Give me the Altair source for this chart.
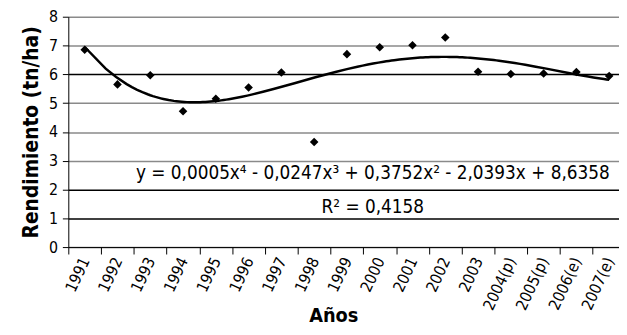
import altair as alt
import pandas as pd

years = ["1991", "1992", "1993", "1994", "1995", "1996", "1997", "1998", "1999",
         "2000", "2001", "2002", "2003", "2004(p)", "2005(p)", "2006(e)", "2007(e)"]
rendimiento = [6.85, 5.65, 5.97, 4.72, 5.15, 5.54, 6.06, 3.65, 6.70,
               6.94, 7.01, 7.28, 6.09, 6.01, 6.03, 6.08, 5.94]
y_ticks = [0, 1, 2, 3, 4, 5, 6, 7, 8]
equation = "y = 0,0005x\u2074 - 0,0247x\u00b3 + 0,3752x\u00b2 - 2,0393x + 8,6358"
r2_text = "R\u00b2 = 0,4158"

df = pd.DataFrame({"x": list(range(1, len(years) + 1)), "y": rendimiento, "year": years})

FONT = "'Liberation Sans Narrow', 'DejaVu Sans Condensed', 'Roboto Condensed', 'Liberation Sans', sans-serif"
label_arr = "[" + ",".join("'" + y + "'" for y in years) + "]"

x_scale = alt.Scale(domain=[0.5, 17.3], nice=False, zero=False)
y_scale = alt.Scale(domain=[0, 8], nice=False)

x_axis = alt.Axis(
    values=[i + 0.5 for i in range(len(years))],
    labelExpr=label_arr + "[round(datum.value - 0.5)]",
    labelOffset=17,
    labelAngle=-65,
    labelAlign="right",
    labelBaseline="middle",
    labelFlush=False,
    labelOverlap=False,
    labelBound=False,
    labelFont=FONT,
    labelFontSize=16,
    labelColor="black",
    labelPadding=4,
    grid=False,
    tickColor="black",
    tickSize=7,
    domainColor="black",
    title="Años",
    titleFont=FONT,
    titleFontSize=20,
    titleFontWeight="bold",
    titleColor="black",
    titleX=268,
    titleY=59,
    titleAlign="center",
    titleBaseline="top",
)

y_axis = alt.Axis(
    values=y_ticks,
    labelFont=FONT,
    labelFontSize=16,
    labelColor="black",
    labelPadding=5,
    labelOverlap=False,
    tickColor="black",
    tickSize=6,
    domainColor="black",
    gridColor={"condition": {"test": "datum.value == 1 || datum.value == 2 || datum.value == 6",
                             "value": "black"}, "value": "#8a8a8a"},
    gridWidth=1.5,
    title="Rendimiento (tn/ha)",
    titleFont=FONT,
    titleFontSize=21,
    titleFontWeight="bold",
    titleColor="black",
    titlePadding=7,
)

base = alt.Chart(df).encode(
    x=alt.X("x:Q", scale=x_scale, axis=x_axis),
    y=alt.Y("y:Q", scale=y_scale, axis=y_axis),
)

points = base.mark_point(shape="diamond", filled=True, color="black", size=75, opacity=1)

trend = base.transform_regression("x", "y", method="poly", order=4).mark_line(
    color="black", strokeWidth=2.5
)

eq = alt.Chart(pd.DataFrame({"t": [equation]})).mark_text(
    font=FONT, fontSize=19, color="black", align="center", baseline="middle"
).encode(text="t:N", x=alt.value(308), y=alt.value(158))

r2 = alt.Chart(pd.DataFrame({"t": [r2_text]})).mark_text(
    font=FONT, fontSize=19, color="black", align="center", baseline="middle"
).encode(text="t:N", x=alt.value(308), y=alt.value(193))

chart = alt.layer(trend, points, eq, r2).properties(
    width=557, height=233,
    padding={"left": 61, "top": 7, "right": 0, "bottom": 78},
    autosize=alt.AutoSizeParams(type="none"),
).configure_view(stroke=None)

chart.save("out.html", embed_options={"renderer": "svg", "actions": False})
